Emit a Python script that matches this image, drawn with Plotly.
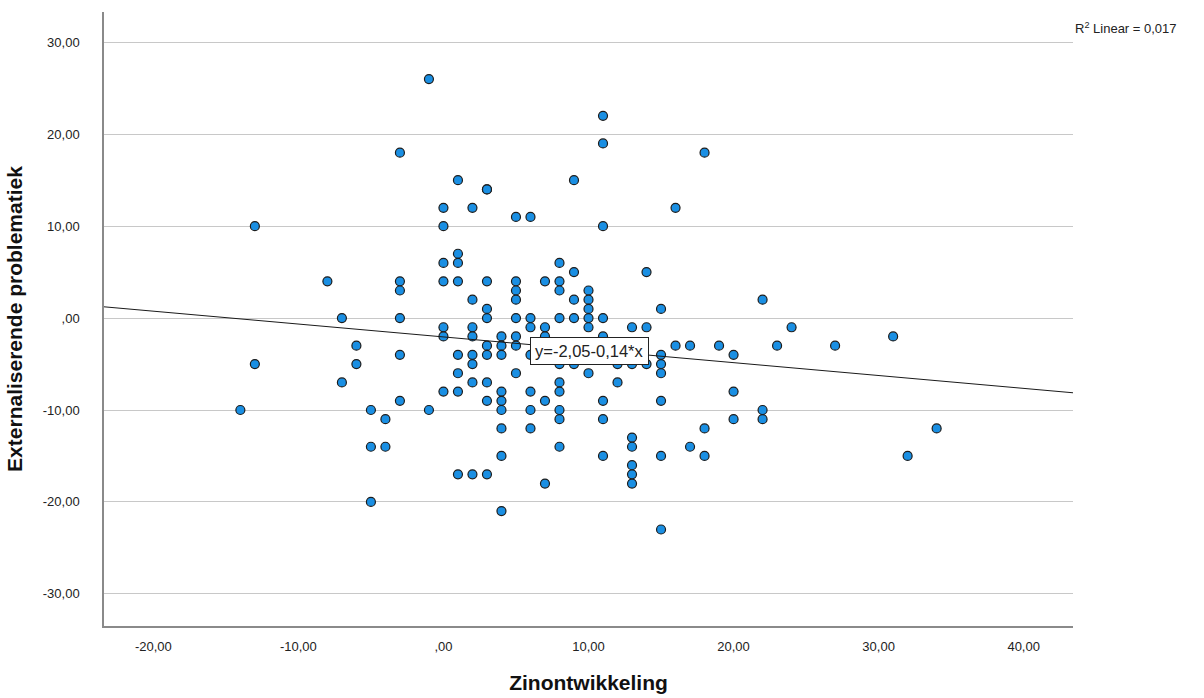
import plotly.graph_objects as go

# Zinontwikkeling (x) and Externaliserende problematiek (y), one entry per respondent
zin = [
    -14, -13, -13, -8, -7, -7, -6, -6, -5, -5, -5, -4, -4,
    -3, -3, -3, -3, -3, -3, -1, -1,
    0, 0, 0, 0, 0, 0, 0,
    1, 1, 1, 1, 1, 1, 1, 1,
    2, 2, 2, 2, 2, 2, 2, 2,
    3, 3, 3, 3, 3, 3, 3, 3, 3, 3,
    4, 4, 4, 4, 4, 4, 4, 4, 4,
    5, 5, 5, 5, 5, 5, 5, 5,
    6, 6, 6, 6, 6, 6, 6,
    7, 7, 7, 7, 7,
    8, 8, 8, 8, 8, 8, 8, 8, 8, 8,
    9, 9, 9, 9, 9,
    10, 10, 10, 10, 10, 10,
    11, 11, 11, 11, 11, 11, 11, 11,
    12, 12,
    13, 13, 13, 13, 13, 13, 13,
    14, 14, 14,
    15, 15, 15, 15, 15, 15, 15,
    16, 16, 17, 17, 18, 18, 18, 19, 20, 20, 20,
    22, 22, 22, 23, 24, 27, 31, 32, 34,
]
ext = [
    -10, 10, -5, 4, 0, -7, -3, -5, -10, -14, -20, -11, -14,
    18, 4, 3, 0, -4, -9, 26, -10,
    12, 10, 6, 4, -1, -2, -8,
    15, 7, 6, 4, -4, -6, -8, -17,
    12, 2, -1, -2, -4, -5, -7, -17,
    14, 14, 4, 1, 0, -3, -4, -7, -9, -17,
    -2, -3, -4, -8, -9, -10, -12, -15, -21,
    11, 4, 3, 2, 0, -2, -3, -6,
    11, 0, -1, -4, -8, -10, -12,
    4, -1, -2, -9, -18,
    6, 4, 3, 0, -5, -7, -8, -10, -11, -14,
    15, 5, 2, 0, -5,
    3, 2, 1, 0, -1, -6,
    22, 19, 10, 0, -2, -9, -11, -15,
    -5, -7,
    -1, -5, -13, -14, -16, -17, -18,
    5, -1, -5,
    1, -4, -5, -6, -9, -15, -23,
    12, -3, -3, -14, 18, -12, -15, -3, -4, -8, -11,
    2, -10, -11, -3, -1, -3, -2, -15, -12,
]

# Linear fit as reported: y = -2,05 - 0,14*x, R^2 = 0,017
intercept = -2.05
slope = -0.14
r_squared = "0,017"

x_range = [-23.4, 43.4]
y_range = [-33.5, 33.3]

x_ticks = [-20, -10, 0, 10, 20, 30, 40]
x_tick_text = ["-20,00", "-10,00", ",00", "10,00", "20,00", "30,00", "40,00"]
y_ticks = [-30, -20, -10, 0, 10, 20, 30]
y_tick_text = ["-30,00", "-20,00", "-10,00", ",00", "10,00", "20,00", "30,00"]

font_family = "Liberation Sans, Arial, sans-serif"

fig = go.Figure()

fig.add_trace(go.Scatter(
    x=zin, y=ext, mode="markers",
    marker=dict(size=9, color="#1a8fe3",
                line=dict(color="#1c1c1c", width=1.2)),
    showlegend=False, hoverinfo="x+y",
))

fit_x = x_range
fit_y = [intercept + slope * v for v in fit_x]
fig.add_trace(go.Scatter(
    x=fit_x, y=fit_y, mode="lines",
    line=dict(color="#1a1a1a", width=1),
    showlegend=False, hoverinfo="skip",
))

# Equation label on the fit line
fig.add_annotation(
    x=10.06, y=-3.53, xref="x", yref="y",
    text="y=-2,05-0,14*x", showarrow=False,
    font=dict(family=font_family, size=16.5, color="#222"),
    bgcolor="white", bordercolor="#222", borderwidth=1, borderpad=4,
)

fig.add_annotation(
    x=1.0, y=1.0, xref="paper", yref="paper",
    xanchor="left", yanchor="top", xshift=0, yshift=-6,
    text=f"R<sup>2</sup> Linear = {r_squared}", showarrow=False,
    font=dict(family=font_family, size=13, color="#222"),
)

title_font = dict(family=font_family, size=21, color="#111", weight="bold")

fig.update_layout(
    width=1204, height=698,
    margin=dict(l=104, r=131, t=12, b=72),
    plot_bgcolor="white", paper_bgcolor="white",
    font=dict(family=font_family, size=12, color="#222"),
    xaxis=dict(
        range=x_range, tickvals=x_ticks, ticktext=x_tick_text,
        showgrid=False, zeroline=False, automargin=False,
        showline=True, linecolor="#8a8a8a", linewidth=1.5,
        ticks="", ticklabelstandoff=8,
        tickfont=dict(size=13, color="#222"),
        title=dict(text="Zinontwikkeling", font=title_font, standoff=22),
    ),
    yaxis=dict(
        range=y_range, tickvals=y_ticks, ticktext=y_tick_text,
        showgrid=True, gridcolor="#c8c8c8", gridwidth=1.3,
        zeroline=False, automargin=False,
        showline=True, linecolor="#8a8a8a", linewidth=1.5,
        ticks="", ticklabelstandoff=20,
        tickfont=dict(size=13, color="#222"),
        title=dict(text="Externaliserende problematiek", font=title_font,
                   standoff=14),
    ),
)

fig.write_html("out.html")
